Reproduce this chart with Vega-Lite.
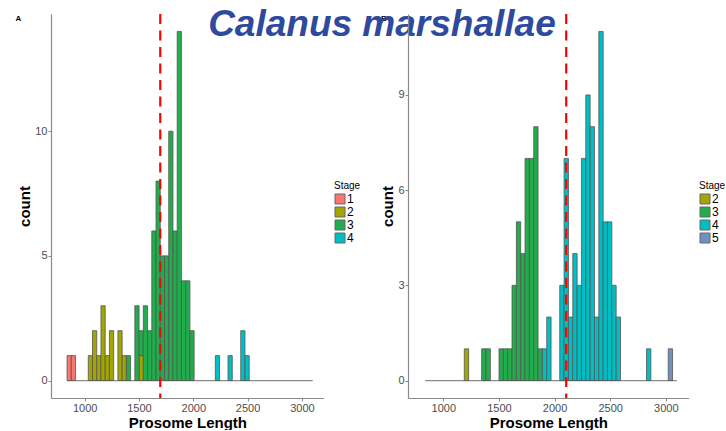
{
  "$schema": "https://vega.github.io/schema/vega-lite/v6.json",
  "background": "white",
  "padding": {"left": 15, "top": 6, "right": 0, "bottom": 0},
  "bounds": "flush",
  "spacing": 84,
  "datasets": {
    "a": [
      {"lo": 838, "hi": 877, "stage": "1", "n": 1},
      {"lo": 877, "hi": 916, "stage": "1", "n": 1},
      {"lo": 1033, "hi": 1072, "stage": "2", "n": 1},
      {"lo": 1072, "hi": 1111, "stage": "2", "n": 2},
      {"lo": 1111, "hi": 1150, "stage": "2", "n": 1},
      {"lo": 1150, "hi": 1189, "stage": "2", "n": 3},
      {"lo": 1189, "hi": 1228, "stage": "2", "n": 1},
      {"lo": 1228, "hi": 1267, "stage": "2", "n": 2},
      {"lo": 1306, "hi": 1345, "stage": "2", "n": 2},
      {"lo": 1345, "hi": 1384, "stage": "2", "n": 1},
      {"lo": 1501, "hi": 1540, "stage": "2", "n": 1},
      {"lo": 1384, "hi": 1423, "stage": "3", "n": 1},
      {"lo": 1462, "hi": 1501, "stage": "3", "n": 3},
      {"lo": 1501, "hi": 1540, "stage": "3", "n": 1},
      {"lo": 1540, "hi": 1579, "stage": "3", "n": 3},
      {"lo": 1579, "hi": 1618, "stage": "3", "n": 2},
      {"lo": 1618, "hi": 1657, "stage": "3", "n": 6},
      {"lo": 1657, "hi": 1696, "stage": "3", "n": 8},
      {"lo": 1696, "hi": 1735, "stage": "3", "n": 5},
      {"lo": 1735, "hi": 1774, "stage": "3", "n": 5},
      {"lo": 1774, "hi": 1813, "stage": "3", "n": 10},
      {"lo": 1813, "hi": 1852, "stage": "3", "n": 6},
      {"lo": 1852, "hi": 1891, "stage": "3", "n": 14},
      {"lo": 1891, "hi": 1930, "stage": "3", "n": 4},
      {"lo": 1930, "hi": 1969, "stage": "3", "n": 4},
      {"lo": 1969, "hi": 2008, "stage": "3", "n": 2},
      {"lo": 2203, "hi": 2242, "stage": "4", "n": 1},
      {"lo": 2320, "hi": 2359, "stage": "4", "n": 1},
      {"lo": 2437, "hi": 2476, "stage": "4", "n": 2},
      {"lo": 2476, "hi": 2515, "stage": "4", "n": 1}
    ],
    "b": [
      {"lo": 1189, "hi": 1228, "stage": "2", "n": 1},
      {"lo": 1345, "hi": 1384, "stage": "3", "n": 1},
      {"lo": 1384, "hi": 1423, "stage": "3", "n": 1},
      {"lo": 1501, "hi": 1540, "stage": "3", "n": 1},
      {"lo": 1540, "hi": 1579, "stage": "3", "n": 1},
      {"lo": 1579, "hi": 1618, "stage": "3", "n": 1},
      {"lo": 1618, "hi": 1657, "stage": "3", "n": 3},
      {"lo": 1657, "hi": 1696, "stage": "3", "n": 5},
      {"lo": 1696, "hi": 1735, "stage": "3", "n": 4},
      {"lo": 1735, "hi": 1774, "stage": "3", "n": 7},
      {"lo": 1774, "hi": 1813, "stage": "3", "n": 7},
      {"lo": 1813, "hi": 1852, "stage": "3", "n": 8},
      {"lo": 1852, "hi": 1891, "stage": "3", "n": 1},
      {"lo": 1891, "hi": 1930, "stage": "4", "n": 1},
      {"lo": 1930, "hi": 1969, "stage": "4", "n": 2},
      {"lo": 2047, "hi": 2086, "stage": "4", "n": 3},
      {"lo": 2086, "hi": 2125, "stage": "4", "n": 7},
      {"lo": 2125, "hi": 2164, "stage": "4", "n": 2},
      {"lo": 2164, "hi": 2203, "stage": "4", "n": 4},
      {"lo": 2203, "hi": 2242, "stage": "4", "n": 3},
      {"lo": 2242, "hi": 2281, "stage": "4", "n": 7},
      {"lo": 2281, "hi": 2320, "stage": "4", "n": 9},
      {"lo": 2320, "hi": 2359, "stage": "4", "n": 8},
      {"lo": 2359, "hi": 2398, "stage": "4", "n": 2},
      {"lo": 2398, "hi": 2437, "stage": "4", "n": 11},
      {"lo": 2437, "hi": 2476, "stage": "4", "n": 5},
      {"lo": 2476, "hi": 2515, "stage": "4", "n": 5},
      {"lo": 2515, "hi": 2554, "stage": "4", "n": 3},
      {"lo": 2554, "hi": 2593, "stage": "4", "n": 2},
      {"lo": 2827, "hi": 2866, "stage": "4", "n": 1},
      {"lo": 3022, "hi": 3061, "stage": "5", "n": 1}
    ],
    "range": [{"lo": 838, "hi": 3100}]
  },
  "hconcat": [
    {
      "width": 272.6,
      "height": 384,
      "layer": [
        {
          "data": {"name": "range"},
          "mark": {"type": "rule", "color": "#8a8a8a", "strokeWidth": 1.2},
          "encoding": {
            "x": {"field": "lo", "type": "quantitative", "scale": {"domain": [690, 3200], "nice": false, "zero": false}, "axis": {"values": [1000, 1500, 2000, 2500, 3000], "format": "d", "title": "Prosome Length"}},
            "x2": {"field": "hi"},
            "y": {"datum": 0, "type": "quantitative", "scale": {"domain": [-0.7, 14.7], "nice": false, "zero": false}, "axis": {"values": [0, 5, 10], "title": "count"}}
          }
        },
        {
          "data": {"name": "a"},
          "transform": [{"stack": "n", "groupby": ["lo"], "sort": [{"field": "stage", "order": "ascending"}], "as": ["n0", "n1"]}],
          "mark": {"type": "bar", "stroke": "#555555", "strokeWidth": 0.8},
          "encoding": {
            "x": {"field": "lo", "type": "quantitative"},
            "x2": {"field": "hi"},
            "y": {"field": "n0", "type": "quantitative"},
            "y2": {"field": "n1"},
            "color": {"field": "stage", "type": "nominal", "scale": {"domain": ["1", "2", "3", "4"], "range": ["#F8766D", "#A3A500", "#22AD4C", "#00BFC4"]}, "legend": {"title": "Stage", "orient": "none", "legendX": 283, "legendY": 167}}
          }
        },
        {
          "data": {"values": [{"cut": 1696}]},
          "mark": {"type": "rule", "color": "#FF0000", "strokeWidth": 2.2, "strokeDash": [10, 6.5]},
          "encoding": {"x": {"field": "cut", "type": "quantitative"}}
        },
        {
          "data": {"values": [{}]},
          "mark": {"type": "text", "text": "A", "fontSize": 8, "fontWeight": "bold", "color": "#000000", "align": "left", "baseline": "alphabetic"},
          "encoding": {"x": {"datum": 362, "type": "quantitative"}, "y": {"datum": 14.43, "type": "quantitative"}}
        },
        {
          "data": {"values": [{}]},
          "mark": {"type": "text", "text": "B", "fontSize": 8, "fontWeight": "bold", "color": "#000000", "align": "left", "baseline": "alphabetic"},
          "encoding": {"x": {"datum": 3729, "type": "quantitative"}, "y": {"datum": 14.43, "type": "quantitative"}}
        },
        {
          "data": {"values": [{}]},
          "mark": {"type": "text", "text": "Calanus marshallae", "fontSize": 37, "font": "Liberation Sans", "fontStyle": "italic", "fontWeight": "bold", "color": "#2E4A9E", "align": "left", "baseline": "alphabetic"},
          "encoding": {"x": {"datum": 2137, "type": "quantitative"}, "y": {"datum": 13.81, "type": "quantitative"}}
        }
      ]
    },
    {
      "width": 280.7,
      "height": 384,
      "layer": [
        {
          "data": {"name": "range"},
          "mark": {"type": "rule", "color": "#8a8a8a", "strokeWidth": 1.2},
          "encoding": {
            "x": {"field": "lo", "type": "quantitative", "scale": {"domain": [683, 3206], "nice": false, "zero": false}, "axis": {"values": [1000, 1500, 2000, 2500, 3000], "format": "d", "title": "Prosome Length"}},
            "x2": {"field": "hi"},
            "y": {"datum": 0, "type": "quantitative", "scale": {"domain": [-0.55, 11.55], "nice": false, "zero": false}, "axis": {"values": [0, 3, 6, 9], "title": "count"}}
          }
        },
        {
          "data": {"name": "b"},
          "transform": [{"stack": "n", "groupby": ["lo"], "sort": [{"field": "stage", "order": "ascending"}], "as": ["n0", "n1"]}],
          "mark": {"type": "bar", "stroke": "#555555", "strokeWidth": 0.8},
          "encoding": {
            "x": {"field": "lo", "type": "quantitative"},
            "x2": {"field": "hi"},
            "y": {"field": "n0", "type": "quantitative"},
            "y2": {"field": "n1"},
            "color": {"field": "stage", "type": "nominal", "scale": {"domain": ["2", "3", "4", "5"], "range": ["#A3A500", "#22AD4C", "#00BFC4", "#7091C0"]}, "legend": {"title": "Stage", "orient": "none", "legendX": 291, "legendY": 167}}
          }
        },
        {
          "data": {"values": [{"cut": 2105}]},
          "mark": {"type": "rule", "color": "#FF0000", "strokeWidth": 2.2, "strokeDash": [10, 6.5]},
          "encoding": {"x": {"field": "cut", "type": "quantitative"}}
        }
      ]
    }
  ],
  "resolve": {"scale": {"color": "independent", "x": "independent", "y": "independent"}, "legend": {"color": "independent"}},
  "config": {
    "font": "Liberation Sans",
    "view": {"stroke": null},
    "axis": {"grid": false, "domainColor": "#8a8a8a", "domainWidth": 1.2, "tickColor": "#8a8a8a", "tickSize": 3, "labelColor": "#4d4d4d", "labelFontSize": 11, "labelPadding": 1, "titleFontSize": 15, "titleFontWeight": "bold", "titleColor": "#000000", "titlePadding": 2},
    "legend": {"titleFontSize": 10, "titleFontWeight": "normal", "titleColor": "#000000", "titlePadding": 2, "labelFontSize": 12, "labelColor": "#000000", "labelOffset": 1, "symbolType": "square", "symbolSize": 100, "symbolStrokeColor": "#666666", "symbolStrokeWidth": 1, "symbolOpacity": 1, "rowPadding": -4.5, "padding": 0}
  }
}
